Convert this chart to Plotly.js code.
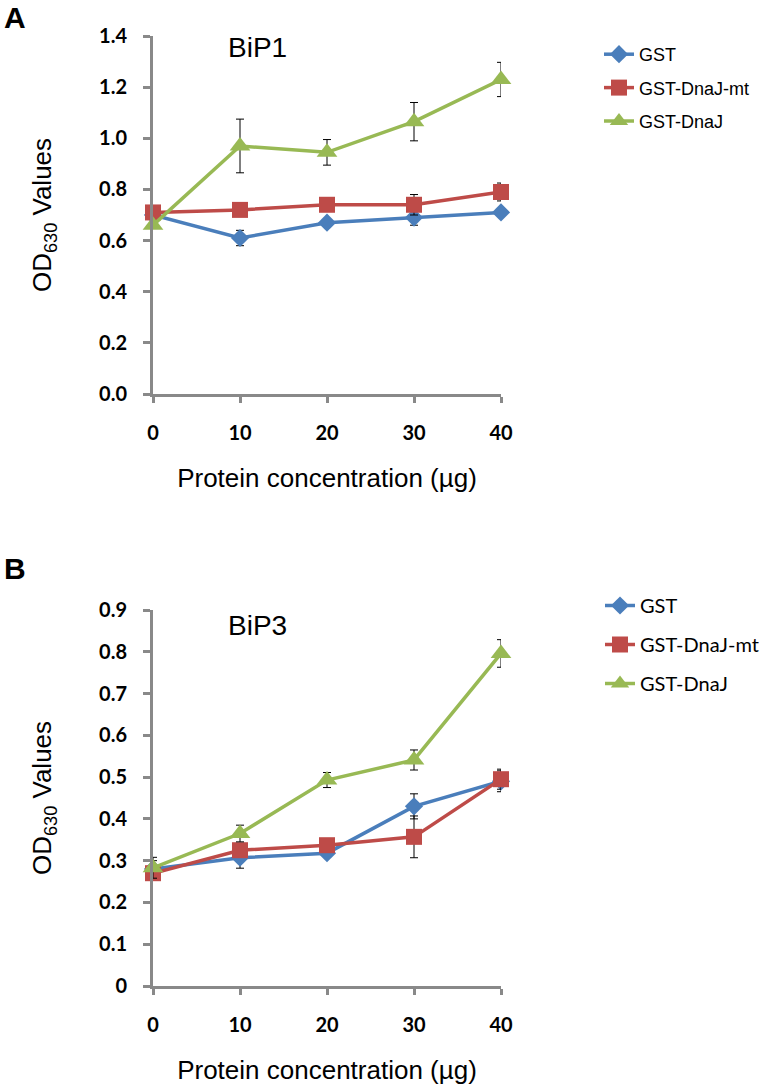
<!DOCTYPE html>
<html>
<head>
<meta charset="utf-8">
<script src="https://cdn.plot.ly/plotly-3.0.1.min.js"></script>
<style>
  body { margin: 0; background: #fff; }
  #chart { width: 766px; height: 1088px; }
</style>
</head>
<body>
<div id="chart"></div>
<script>
// protein amounts (ug)
const conc = [0, 10, 20, 30, 40];
const seriesNames = ['GST', 'GST-DnaJ-mt', 'GST-DnaJ'];

// panel A - BiP1
const bip1GST = [0.70, 0.61, 0.67, 0.69, 0.71];
const bip1GSTErr = [0.02, 0.03, 0.01, 0.03, 0.01];
const bip1Mt = [0.71, 0.72, 0.74, 0.74, 0.79];
const bip1MtErr = [0.01, 0.01, 0.01, 0.04, 0.035];
const bip1DnaJ = [0.66, 0.97, 0.945, 1.065, 1.23];
const bip1DnaJErr = [0.01, 0.105, 0.05, 0.075, 0.067];

// panel B - BiP3
const bip3GST = [0.28, 0.307, 0.318, 0.43, 0.49];
const bip3GSTErr = [0.02, 0.025, 0.01, 0.03, 0.025];
const bip3Mt = [0.27, 0.325, 0.337, 0.357, 0.495];
const bip3MtErr = [0.01, 0.01, 0.01, 0.05, 0.024];
const bip3DnaJ = [0.283, 0.365, 0.493, 0.541, 0.796];
const bip3DnaJErr = [0.025, 0.02, 0.018, 0.024, 0.033];

const colors = ['#4A7EBB', '#BE4B48', '#98B954'];
const symbols = ['diamond', 'square', 'triangle-up'];
const sizes = [14, 16, 18];

const W = 766, H = 1088;
function px(x) { return x / W; }
function py(y) { return 1 - y / H; }

function makeTrace(y, err, i, panel) {
    return {
        x: conc,
        y: y,
        name: seriesNames[i],
        type: 'scatter',
        mode: 'lines+markers',
        xaxis: panel === 1 ? 'x' : 'x2',
        yaxis: panel === 1 ? 'y' : 'y2',
        legend: panel === 1 ? 'legend' : 'legend2',
        legendgroup: 'p' + panel + 's' + i,
        cliponaxis: false,
        line: { color: colors[i], width: 3.5 },
        marker: { symbol: symbols[i], size: sizes[i], color: colors[i] },
        error_y: { type: 'data', array: err, visible: true, color: '#000', thickness: 1, width: 4 }
    };
}

const traces = [
    makeTrace(bip1GST, bip1GSTErr, 0, 1),
    makeTrace(bip1Mt, bip1MtErr, 1, 1),
    makeTrace(bip1DnaJ, bip1DnaJErr, 2, 1),
    makeTrace(bip3GST, bip3GSTErr, 0, 2),
    makeTrace(bip3Mt, bip3MtErr, 1, 2),
    makeTrace(bip3DnaJ, bip3DnaJErr, 2, 2)
];

const tickFont = { family: 'Lato', size: 20, color: '#000', weight: 'bold' };
const titleFont = { family: 'Liberation Sans, Arial', size: 26, color: '#000' };

function xAxis() {
    return {
        domain: [px(153), px(501)],
        range: [0, 40],
        tickvals: conc,
        showline: true, linecolor: '#898989', linewidth: 3,
        ticks: 'outside', ticklen: 6, tickwidth: 3, tickcolor: '#898989',
        showgrid: false, zeroline: false,
        tickfont: tickFont,
        ticklabelstandoff: 13,
        title: { text: 'Protein concentration (µg)', font: titleFont, standoff: 26 },
        fixedrange: true
    };
}

function yAxis(domain, range, dtick, fmt) {
    return {
        domain: domain,
        range: range,
        dtick: dtick,
        tick0: 0,
        tickformat: fmt,
        showline: true, linecolor: '#898989', linewidth: 3,
        ticks: 'outside', ticklen: 7, tickwidth: 3, tickcolor: '#898989',
        showgrid: false, zeroline: false,
        tickfont: tickFont,
        ticklabelstandoff: 12,
        title: { text: 'OD<sub>630</sub> Values', font: titleFont, standoff: 40 },
        fixedrange: true
    };
}

const layout = {
    width: W,
    height: H,
    margin: { l: 0, r: 0, t: 0, b: 0 },
    paper_bgcolor: '#fff',
    plot_bgcolor: '#fff',
    showlegend: true,
    xaxis: xAxis(),
    yaxis: yAxis([py(394), py(36)], [0, 1.4], 0.2, '.1f'),
    xaxis2: Object.assign(xAxis(), { anchor: 'y2' }),
    yaxis2: Object.assign(yAxis([py(986), py(610)], [0, 0.9], 0.1, ''), { anchor: 'x2' }),
    legend: {
        x: px(599), y: py(36), xanchor: 'left', yanchor: 'top',
        font: { family: 'Liberation Sans, Arial', size: 18, color: '#000' },
        tracegroupgap: 7, bgcolor: 'rgba(0,0,0,0)'
    },
    legend2: {
        x: px(600), y: py(586), xanchor: 'left', yanchor: 'top',
        font: { family: 'Lato', size: 20, color: '#000' },
        tracegroupgap: 10, bgcolor: 'rgba(0,0,0,0)'
    },
    annotations: [
        { text: '<b>A</b>', x: px(2), y: py(17), xref: 'paper', yref: 'paper', xanchor: 'left', yanchor: 'middle',
          showarrow: false, font: { family: 'Liberation Sans, Arial', size: 30, color: '#000' } },
        { text: '<b>B</b>', x: px(2), y: py(568), xref: 'paper', yref: 'paper', xanchor: 'left', yanchor: 'middle',
          showarrow: false, font: { family: 'Liberation Sans, Arial', size: 30, color: '#000' } },
        { text: 'BiP1', x: px(257), y: py(47), xref: 'paper', yref: 'paper', xanchor: 'center', yanchor: 'middle',
          showarrow: false, font: { family: 'Liberation Sans, Arial', size: 28, color: '#000' } },
        { text: 'BiP3', x: px(257), y: py(625), xref: 'paper', yref: 'paper', xanchor: 'center', yanchor: 'middle',
          showarrow: false, font: { family: 'Liberation Sans, Arial', size: 28, color: '#000' } }
    ]
};

Plotly.newPlot('chart', traces, layout, { displayModeBar: false, staticPlot: true });
</script>
</body>
</html>
